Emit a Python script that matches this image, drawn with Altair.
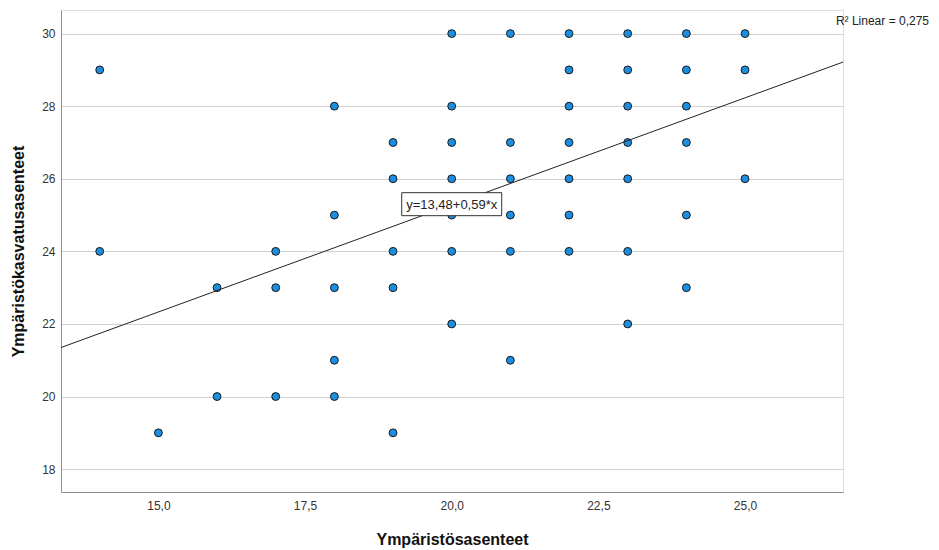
import altair as alt
import pandas as pd

# Scatter data: Ympäristösasenteet (x) vs Ympäristökasvatusasenteet (y)
xs = [14, 14,
      15,
      16, 16,
      17, 17, 17,
      18, 18, 18, 18, 18,
      19, 19, 19, 19, 19,
      20, 20, 20, 20, 20, 20, 20,
      21, 21, 21, 21, 21, 21,
      22, 22, 22, 22, 22, 22, 22,
      23, 23, 23, 23, 23, 23, 23,
      24, 24, 24, 24, 24, 24,
      25, 25, 25]
ys = [29, 24,
      19,
      23, 20,
      24, 23, 20,
      28, 25, 23, 21, 20,
      27, 26, 24, 23, 19,
      30, 28, 27, 26, 25, 24, 22,
      30, 27, 26, 25, 24, 21,
      30, 29, 28, 27, 26, 25, 24,
      30, 29, 28, 27, 26, 24, 22,
      30, 29, 28, 27, 25, 23,
      30, 29, 26]

x_domain = [13.34, 26.67]
y_domain = [17.37, 30.65]
x_ticks = [15, 17.5, 20, 22.5, 25]
y_ticks = [18, 20, 22, 24, 26, 28, 30]

intercept = 13.48
slope = 0.59
eq_label = "y=13,48+0,59*x"
eq_pos = [20.0, 25.3]
r2_label = "R² Linear = 0,275"

FONT = "Liberation Sans"

df = pd.DataFrame({"x": xs, "y": ys})
line_df = pd.DataFrame({"x": x_domain,
                        "y": [intercept + slope * v for v in x_domain]})
eq_df = pd.DataFrame({"x": [eq_pos[0]], "y": [eq_pos[1]], "t": [eq_label]})
r2_df = pd.DataFrame({"t": [r2_label]})

xscale = alt.Scale(domain=x_domain, nice=False, zero=False)
yscale = alt.Scale(domain=y_domain, nice=False, zero=False)

x_axis = alt.Axis(values=x_ticks, grid=False, ticks=False, tickSize=0,
                  labelExpr="replace(format(datum.value, '.1f'), '.', ',')",
                  labelFontSize=12, labelColor="#333333", labelFont=FONT,
                  labelPadding=8, domainColor="#8c8c8c",
                  title="Ympäristösasenteet", titleFont=FONT, titleFontSize=16,
                  titleFontWeight="bold", titleColor="#111111", titlePadding=20)
y_axis = alt.Axis(values=y_ticks, grid=True, gridColor="#d2d2d2", ticks=False,
                  tickSize=0, format="d",
                  labelFontSize=12, labelColor="#333333", labelFont=FONT,
                  labelPadding=6, domainColor="#8c8c8c",
                  title="Ympäristökasvatusasenteet", titleFont=FONT,
                  titleFontSize=16, titleFontWeight="bold", titleColor="#111111",
                  titlePadding=15)

base = alt.Chart(df)

points = base.mark_point(filled=True, shape="circle", size=62, fill="#1b8ee0",
                         stroke="#1a1a1a", strokeWidth=1, opacity=1).encode(
    x=alt.X("x:Q", scale=xscale, axis=x_axis),
    y=alt.Y("y:Q", scale=yscale, axis=y_axis),
)

reg = alt.Chart(line_df).mark_line(color="#222222", strokeWidth=1, clip=True).encode(
    x=alt.X("x:Q", scale=xscale),
    y=alt.Y("y:Q", scale=yscale),
)

box = alt.Chart(eq_df).mark_point(
    shape="M-1,-0.23L1,-0.23L1,0.23L-1,0.23Z", size=10000,
    filled=True, fill="#ffffff", fillOpacity=1, stroke="#333333",
    strokeWidth=1, opacity=1
).encode(
    x=alt.X("x:Q", scale=xscale),
    y=alt.Y("y:Q", scale=yscale),
)

eq_text = alt.Chart(eq_df).mark_text(font=FONT, fontSize=13, color="#222222",
                                     align="center", baseline="middle", dy=1).encode(
    x=alt.X("x:Q", scale=xscale),
    y=alt.Y("y:Q", scale=yscale),
    text="t:N",
)

r2_text = alt.Chart(r2_df).mark_text(font=FONT, fontSize=12, color="#222222",
                                     align="right", baseline="middle").encode(
    x=alt.value(868),
    y=alt.value(11),
    text="t:N",
)

chart = alt.layer(points, reg, box, eq_text, r2_text).properties(
    width=782, height=482,
    autosize=alt.AutoSizeParams(type="none"),
    padding={"left": 53, "top": 2, "right": 88, "bottom": 56},
).configure_view(stroke=None).configure(background="white")

chart.save("out.html", embed_options={"renderer": "svg", "actions": False})
